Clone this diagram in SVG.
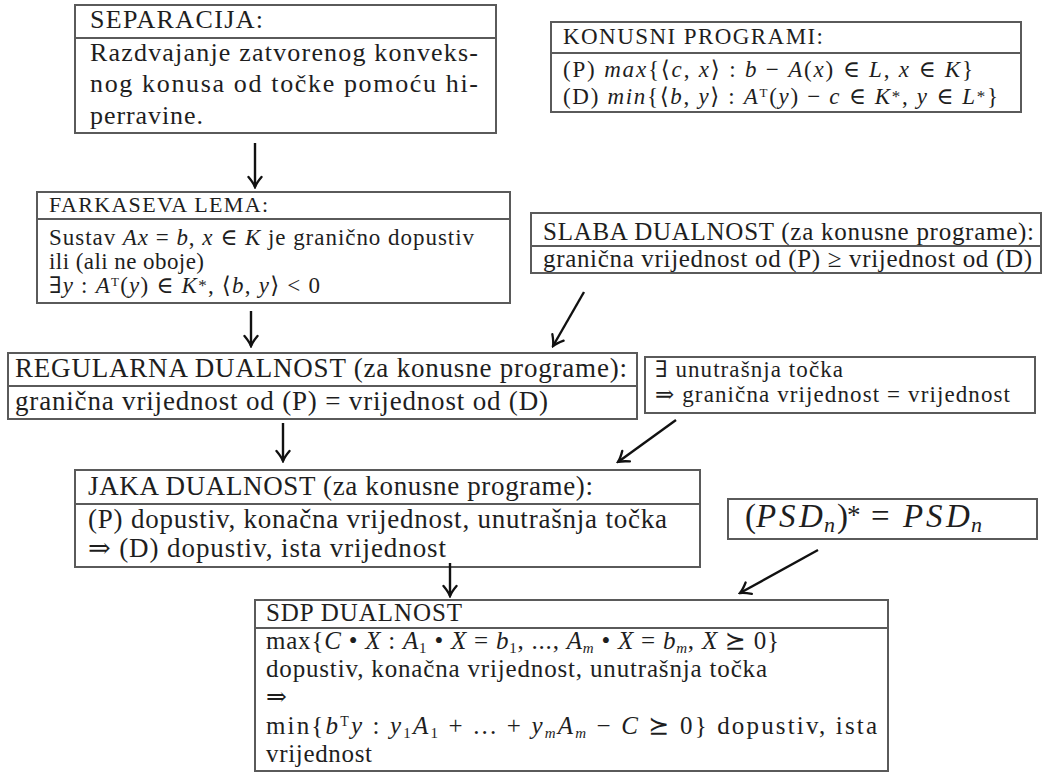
<svg xmlns="http://www.w3.org/2000/svg" width="1052" height="778" viewBox="0 0 1052 778">
<style>
.box{fill:#fff;stroke:#5a5a5a;stroke-width:2}
.dv{stroke:#5a5a5a;stroke-width:2}
.t{font-family:"Liberation Serif","DejaVu Serif","DejaVu Sans",serif;fill:#1e1e1e}
.i{font-style:italic}
.arr{stroke:#111;stroke-width:2.4;fill:none;marker-end:url(#ah)}
</style>
<defs>
<marker id="ah" viewBox="-13 -9 15 18" refX="0" refY="0" markerWidth="15" markerHeight="18" markerUnits="userSpaceOnUse" orient="auto">
<path d="M-10,-6.5 Q-4,-1.5 0,0 Q-4,1.5 -10,6.5" fill="none" stroke="#111" stroke-width="2.3" stroke-linecap="round"/>
</marker>
</defs>
<rect width="1052" height="778" fill="#fff"/>

<g id="separacija">
<rect class="box" x="75" y="5" width="421" height="128"/>
<line class="dv" x1="75" y1="38" x2="496" y2="38"/>
<text class="t" x="90" y="28" font-size="26" textLength="173">SEPARACIJA:</text>
<text class="t" x="90" y="61" font-size="26" textLength="388">Razdvajanje zatvorenog konveks-</text>
<text class="t" x="90" y="92" font-size="26" textLength="388">nog konusa od točke pomoću hi-</text>
<text class="t" x="90" y="124" font-size="26" textLength="113">perravine.</text>
</g>

<g id="konusni">
<rect class="box" x="551" y="22" width="470" height="90"/>
<line class="dv" x1="551" y1="53" x2="1021" y2="53"/>
<text class="t" x="563" y="44" font-size="23" textLength="260">KONUSNI PROGRAMI:</text>
<text class="t" x="563" y="77" font-size="23" textLength="410">(P) <tspan class="i">max</tspan>{⟨<tspan class="i">c</tspan>, <tspan class="i">x</tspan>⟩ :  <tspan class="i">b</tspan> − <tspan class="i">A</tspan>(<tspan class="i">x</tspan>) ∈ <tspan class="i">L</tspan>,  <tspan class="i">x</tspan> ∈ <tspan class="i">K</tspan>}</text>
<text class="t" x="563" y="104" font-size="23" textLength="435">(D) <tspan class="i">min</tspan>{⟨<tspan class="i">b</tspan>, <tspan class="i">y</tspan>⟩ :  <tspan class="i">A</tspan><tspan baseline-shift="7" font-size="13">T</tspan>(<tspan class="i">y</tspan>) − <tspan class="i">c</tspan> ∈ <tspan class="i">K</tspan><tspan baseline-shift="2" font-size="17">*</tspan>,  <tspan class="i">y</tspan> ∈ <tspan class="i">L</tspan><tspan baseline-shift="2" font-size="17">*</tspan>}</text>
</g>

<g id="farkas">
<rect class="box" x="37" y="192" width="473" height="111"/>
<line class="dv" x1="37" y1="219" x2="510" y2="219"/>
<text class="t" x="49" y="212" font-size="22" textLength="219">FARKASEVA LEMA:</text>
<text class="t" x="49" y="245" font-size="23" textLength="425">Sustav <tspan class="i">Ax</tspan> = <tspan class="i">b</tspan>,  <tspan class="i">x</tspan> ∈ <tspan class="i">K</tspan> je granično dopustiv</text>
<text class="t" x="49" y="269" font-size="23" textLength="155">ili (ali ne oboje)</text>
<text class="t" x="49" y="293" font-size="23" textLength="271">∃<tspan class="i">y</tspan> :  <tspan class="i">A</tspan><tspan baseline-shift="7" font-size="13">T</tspan>(<tspan class="i">y</tspan>) ∈ <tspan class="i">K</tspan><tspan baseline-shift="2" font-size="17">*</tspan>,  ⟨<tspan class="i">b</tspan>, <tspan class="i">y</tspan>⟩ &lt; 0</text>
</g>

<g id="slaba">
<rect class="box" x="531" y="213" width="510" height="60"/>
<line class="dv" x1="531" y1="246" x2="1041" y2="246"/>
<text class="t" x="543" y="240" font-size="25" textLength="491">SLABA DUALNOST (za konusne programe):</text>
<text class="t" x="543" y="267" font-size="25" textLength="489">granična vrijednost od (P) ≥ vrijednost od (D)</text>
</g>

<g id="regularna">
<rect class="box" x="8" y="353" width="629" height="66"/>
<line class="dv" x1="8" y1="386" x2="637" y2="386"/>
<text class="t" x="15" y="377" font-size="27" textLength="612">REGULARNA DUALNOST (za konusne programe):</text>
<text class="t" x="15" y="410" font-size="27" textLength="533">granična vrijednost od (P) = vrijednost od (D)</text>
</g>

<g id="unutrasnja">
<rect class="box" x="645" y="357" width="390" height="56"/>
<text class="t" x="655" y="377" font-size="23" textLength="188">∃ unutrašnja točka</text>
<text class="t" x="655" y="402" font-size="23" textLength="355">⇒ granična vrijednost = vrijednost</text>
</g>

<g id="jaka">
<rect class="box" x="75" y="470" width="625" height="97"/>
<line class="dv" x1="75" y1="504" x2="700" y2="504"/>
<text class="t" x="88" y="495" font-size="27" textLength="505">JAKA DUALNOST (za konusne programe):</text>
<text class="t" x="88" y="528" font-size="27" textLength="579">(P) dopustiv, konačna vrijednost, unutrašnja točka</text>
<text class="t" x="88" y="557" font-size="27" textLength="358">⇒ (D) dopustiv, ista vrijednost</text>
</g>

<g id="psd">
<rect class="box" x="728" y="499" width="309" height="40"/>
<text class="t" y="527" font-size="33"><tspan x="745">(</tspan><tspan class="i" x="756">P</tspan><tspan class="i" x="779">S</tspan><tspan class="i" x="799">D</tspan><tspan class="i" x="824" font-size="22" dy="5">n</tspan><tspan x="837" dy="-5">)</tspan><tspan x="847" font-size="27" dy="-3">*</tspan><tspan x="871" dy="3">=</tspan><tspan class="i" x="903">P</tspan><tspan class="i" x="926">S</tspan><tspan class="i" x="946">D</tspan><tspan class="i" x="971" font-size="22" dy="5">n</tspan></text>
</g>

<g id="sdp">
<rect class="box" x="255" y="600" width="633" height="171"/>
<line class="dv" x1="255" y1="628" x2="888" y2="628"/>
<text class="t" x="266" y="621" font-size="25" textLength="196">SDP DUALNOST</text>
<text class="t" x="266" y="649" font-size="25" textLength="513">max{<tspan class="i">C</tspan> • <tspan class="i">X</tspan> :  <tspan class="i">A</tspan><tspan baseline-shift="-4" font-size="15">1</tspan> • <tspan class="i">X</tspan> = <tspan class="i">b</tspan><tspan baseline-shift="-4" font-size="15">1</tspan>, ..., <tspan class="i">A</tspan><tspan class="i" baseline-shift="-4" font-size="15">m</tspan> • <tspan class="i">X</tspan> = <tspan class="i">b</tspan><tspan class="i" baseline-shift="-4" font-size="15">m</tspan>,  <tspan class="i">X</tspan> ⪰ 0}</text>
<text class="t" x="266" y="677" font-size="25" textLength="501">dopustiv, konačna vrijednost, unutrašnja točka</text>
<text class="t" x="266" y="705" font-size="25">⇒</text>
<text class="t" x="266" y="734" font-size="25" textLength="611">min{<tspan class="i">b</tspan><tspan baseline-shift="8" font-size="14">T</tspan><tspan class="i">y</tspan> :   <tspan class="i">y</tspan><tspan baseline-shift="-4" font-size="15">1</tspan><tspan class="i">A</tspan><tspan baseline-shift="-4" font-size="15">1</tspan> + ... + <tspan class="i">y</tspan><tspan class="i" baseline-shift="-4" font-size="15">m</tspan><tspan class="i">A</tspan><tspan class="i" baseline-shift="-4" font-size="15">m</tspan> − <tspan class="i">C</tspan> ⪰ 0} dopustiv, ista</text>
<text class="t" x="266" y="762" font-size="25" textLength="106">vrijednost</text>
</g>

<g id="connectors">
<line class="arr" x1="255" y1="143" x2="255" y2="187"/>
<line class="arr" x1="251" y1="311" x2="251" y2="346"/>
<line class="arr" x1="584" y1="292" x2="553" y2="346"/>
<line class="arr" x1="283" y1="423" x2="283" y2="461"/>
<line class="arr" x1="676" y1="420" x2="618" y2="462"/>
<line class="arr" x1="450" y1="563" x2="450" y2="596"/>
<line class="arr" x1="818" y1="550" x2="740" y2="593"/>
</g>
</svg>
